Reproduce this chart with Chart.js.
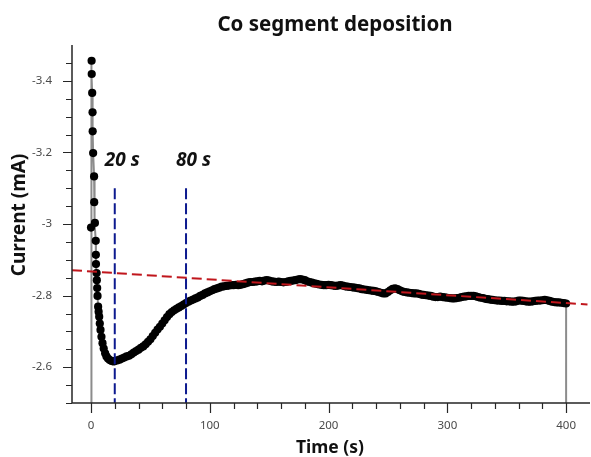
<!DOCTYPE html>
<html>
<head>
<meta charset="utf-8">
<title>Co segment deposition</title>
<script src="https://cdn.jsdelivr.net/npm/chart.js@4"></script>
<style>
  html, body { margin: 0; padding: 0; background: #ffffff; }
  canvas { display: block; }
</style>
</head>
<body>
<canvas id="chart" width="591" height="457"></canvas>
<script>
// Chronoamperometry trace of the Co segment deposition (time in s, current in mA)
const timeS = [
  0, 0, 0.5, 0.6, 1.0, 1.3, 1.4, 1.8, 2.6, 2.7, 3.3, 4.0, 4.1, 4.2, 4.7, 4.9,
  5.2, 5.5, 6.0, 6.4, 6.9, 7.4, 8.0, 8.8, 9.7, 10.7, 11.9, 13.0, 14.3, 15.8,
  17.0, 18.0, 19.0, 20,
  22, 24, 26, 28, 30, 32, 34, 36, 38, 40, 42, 44, 46, 48, 50, 52, 54, 56, 58, 60,
  62, 64, 66, 68, 70, 72, 74, 76, 78, 80, 82, 84, 86, 88, 90, 92, 94, 96, 98, 100,
  102, 104, 106, 108, 110, 112, 114, 116, 118, 120, 122, 124, 126, 128, 130, 132, 134, 136, 138, 140,
  142, 144, 146, 148, 150, 152, 154, 156, 158, 160, 162, 164, 166, 168, 170, 172, 174, 176, 178, 180,
  182, 184, 186, 188, 190, 192, 194, 196, 198, 200, 202, 204, 206, 208, 210, 212, 214, 216, 218, 220,
  222, 224, 226, 228, 230, 232, 234, 236, 238, 240, 242, 244, 246, 248, 250, 252, 254, 256, 258, 260,
  262, 264, 266, 268, 270, 272, 274, 276, 278, 280, 282, 284, 286, 288, 290, 292, 294, 296, 298, 300,
  302, 304, 306, 308, 310, 312, 314, 316, 318, 320, 322, 324, 326, 328, 330, 332, 334, 336, 338, 340,
  342, 344, 346, 348, 350, 352, 354, 356, 358, 360, 362, 364, 366, 368, 370, 372, 374, 376, 378, 380,
  382, 384, 386, 388, 390, 392, 394, 396, 398, 400, 400
];
const currentMA = [
  0, -2.990, -3.456, -3.419, -3.366, -3.312, -3.259, -3.198, -3.133, -3.061, -3.003, -2.953, -2.914, -2.888, -2.863, -2.843,
  -2.821, -2.799, -2.769, -2.755, -2.741, -2.722, -2.704, -2.685, -2.667, -2.652, -2.639, -2.630, -2.624, -2.620,
  -2.618, -2.617, -2.616, -2.617,
  -2.619, -2.621, -2.624, -2.627, -2.630, -2.632, -2.636, -2.641, -2.645, -2.649, -2.654, -2.658, -2.664, -2.671, -2.678, -2.687, -2.696, -2.705, -2.713, -2.722,
  -2.731, -2.740, -2.748, -2.754, -2.759, -2.763, -2.767, -2.771, -2.775, -2.779, -2.783, -2.786, -2.789, -2.792, -2.795, -2.799, -2.802, -2.806, -2.809, -2.812,
  -2.815, -2.818, -2.820, -2.822, -2.825, -2.826, -2.827, -2.828, -2.829, -2.829, -2.830, -2.829, -2.830, -2.832, -2.834, -2.836, -2.838, -2.838, -2.839, -2.840,
  -2.841, -2.840, -2.842, -2.843, -2.842, -2.840, -2.839, -2.838, -2.839, -2.838, -2.837, -2.838, -2.840, -2.841, -2.842, -2.843, -2.845, -2.846, -2.845, -2.843,
  -2.840, -2.838, -2.836, -2.834, -2.833, -2.831, -2.830, -2.829, -2.829, -2.830, -2.829, -2.828, -2.827, -2.828, -2.829, -2.828, -2.826, -2.825, -2.824, -2.823,
  -2.822, -2.821, -2.820, -2.818, -2.817, -2.816, -2.815, -2.814, -2.813, -2.812, -2.810, -2.808, -2.806, -2.806, -2.810, -2.815, -2.819, -2.820, -2.818, -2.815,
  -2.812, -2.810, -2.809, -2.808, -2.807, -2.806, -2.806, -2.805, -2.803, -2.802, -2.801, -2.800, -2.799, -2.797, -2.796, -2.796, -2.797, -2.796, -2.795, -2.794,
  -2.793, -2.792, -2.792, -2.793, -2.794, -2.796, -2.797, -2.798, -2.799, -2.799, -2.799, -2.798, -2.796, -2.794, -2.793, -2.791, -2.790, -2.789, -2.788, -2.787,
  -2.786, -2.786, -2.785, -2.785, -2.784, -2.784, -2.783, -2.783, -2.784, -2.786, -2.786, -2.785, -2.784, -2.783, -2.783, -2.784, -2.785, -2.786, -2.786, -2.787,
  -2.788, -2.787, -2.785, -2.783, -2.782, -2.781, -2.781, -2.780, -2.779, -2.778, 0
];

// Linear trend of the slow drift
const trendTime = [-16, 418];
const trendCurrent = [-2.871, -2.775];

// Marked instants and their captions
const markerTimes = [20, 80];
const markerLabels = ['20 s', '80 s'];
const markerTop = -3.1;
const markerCaptionY = -3.176;

// Axes
const xRange = [-16, 417.5];
const yRange = [-3.5, -2.5];
const xTickValues = [0, 100, 200, 300, 400];
const xTickLabels = ['0', '100', '200', '300', '400'];
const yTickValues = [-3.4, -3.2, -3, -2.8, -2.6];
const yTickLabels = ['-3.4', '-3.2', '-3', '-2.8', '-2.6'];
const xMinorStep = 20;
const yMinorStep = 0.05;

const FONT = "'Noto Sans', 'Open Sans', 'DejaVu Sans', sans-serif";
const AXIS_COLOR = '#262626';

function near(a, b) { return Math.abs(a - b) < 1e-6; }

function noEdgePadding(scale) {
  scale.paddingLeft = 0;
  scale.paddingRight = 0;
  scale.paddingTop = 0;
  scale.paddingBottom = 0;
}

const traceData = timeS.map((t, i) => ({ x: t, y: currentMA[i] }));
const trendData = trendTime.map((t, i) => ({ x: t, y: trendCurrent[i] }));
const markerSets = markerTimes.map(t => ({
  type: 'line',
  data: [{ x: t, y: markerTop }, { x: t, y: yRange[1] }],
  borderColor: '#0d1a8f',
  borderWidth: 2,
  borderDash: [11, 4],
  pointRadius: 0,
  order: 1
}));

// Axis lines, major/minor tick marks, titles and captions
const decorations = {
  id: 'decorations',
  afterDraw(chart) {
    const { ctx, chartArea: a, scales: { x, y } } = chart;
    ctx.save();
    ctx.strokeStyle = AXIS_COLOR;
    ctx.lineWidth = 1.5;
    ctx.beginPath();
    ctx.moveTo(a.left, a.top);
    ctx.lineTo(a.left, a.bottom);
    ctx.lineTo(chart.width - 1, a.bottom);
    ctx.stroke();

    ctx.lineWidth = 1.2;
    ctx.beginPath();
    x.ticks.forEach(t => {
      const px = Math.round(x.getPixelForValue(t.value)) + 0.5;
      const major = xTickValues.some(v => near(v, t.value));
      ctx.moveTo(px, a.bottom);
      ctx.lineTo(px, a.bottom + (major ? 10 : 6));
    });
    y.ticks.forEach(t => {
      const py = Math.round(y.getPixelForValue(t.value)) + 0.5;
      const major = yTickValues.some(v => near(v, t.value));
      ctx.moveTo(a.left, py);
      ctx.lineTo(a.left - (major ? 9 : 6), py);
    });
    ctx.stroke();

    ctx.fillStyle = '#111111';
    ctx.textAlign = 'center';
    ctx.textBaseline = 'alphabetic';
    ctx.font = 'bold 20.5px ' + FONT;
    ctx.fillText('Co segment deposition', 335, 31);

    ctx.font = 'bold 17.5px ' + FONT;
    ctx.fillText('Time (s)', 330, 453);

    ctx.save();
    ctx.translate(25, 215);
    ctx.rotate(-Math.PI / 2);
    ctx.font = 'bold 19px ' + FONT;
    ctx.fillText('Current (mA)', 0, 0);
    ctx.restore();

    ctx.font = 'italic bold 19px ' + FONT;
    ctx.textAlign = 'left';
    ctx.textBaseline = 'middle';
    markerTimes.forEach((t, i) => {
      ctx.fillText(markerLabels[i], x.getPixelForValue(t) - 10, y.getPixelForValue(markerCaptionY));
    });
    ctx.restore();
  }
};

new Chart(document.getElementById('chart'), {
  type: 'line',
  data: {
    datasets: [
      {
        data: trendData,
        borderColor: '#c0161c',
        borderWidth: 2,
        borderDash: [10, 5],
        pointRadius: 0,
        clip: false,
        order: 1
      },
      ...markerSets,
      {
        data: traceData,
        borderColor: '#8c8c8c',
        borderWidth: 2,
        pointRadius: 4.1,
        pointBackgroundColor: '#000000',
        pointBorderColor: '#000000',
        pointBorderWidth: 0,
        order: 10
      }
    ]
  },
  options: {
    responsive: false,
    animation: false,
    events: [],
    layout: { padding: { top: 45, right: 1, left: 0, bottom: 0 } },
    plugins: { legend: { display: false }, tooltip: { enabled: false }, title: { display: false } },
    scales: {
      x: {
        type: 'linear',
        min: xRange[0],
        max: xRange[1],
        grid: { display: false, drawTicks: false },
        border: { display: false },
        afterBuildTicks(scale) {
          const vals = [];
          for (let k = 0; k * xMinorStep <= xRange[1]; k++) vals.push(k * xMinorStep);
          scale.ticks = vals.map(v => ({ value: v }));
        },
        afterFit(scale) { scale.height = 54; noEdgePadding(scale); },
        ticks: {
          autoSkip: false,
          maxRotation: 0,
          padding: 16,
          color: '#4a4a4a',
          font: { family: FONT, size: 11.5 },
          callback(value) {
            const i = xTickValues.findIndex(v => near(v, value));
            return i >= 0 ? xTickLabels[i] : '';
          }
        }
      },
      y: {
        type: 'linear',
        reverse: true,
        min: yRange[0],
        max: yRange[1],
        grid: { display: false, drawTicks: false },
        border: { display: false },
        afterBuildTicks(scale) {
          const vals = [];
          for (let k = 1; yRange[0] + k * yMinorStep <= yRange[1] + 1e-9; k++) {
            vals.push(Math.round((yRange[0] + k * yMinorStep) * 1000) / 1000);
          }
          scale.ticks = vals.map(v => ({ value: v }));
        },
        afterFit(scale) { scale.width = 72; noEdgePadding(scale); },
        ticks: {
          autoSkip: false,
          padding: 20,
          color: '#4a4a4a',
          font: { family: FONT, size: 11.5 },
          callback(value) {
            const i = yTickValues.findIndex(v => near(v, value));
            return i >= 0 ? yTickLabels[i] : '';
          }
        }
      }
    }
  },
  plugins: [decorations]
});
</script>
</body>
</html>
